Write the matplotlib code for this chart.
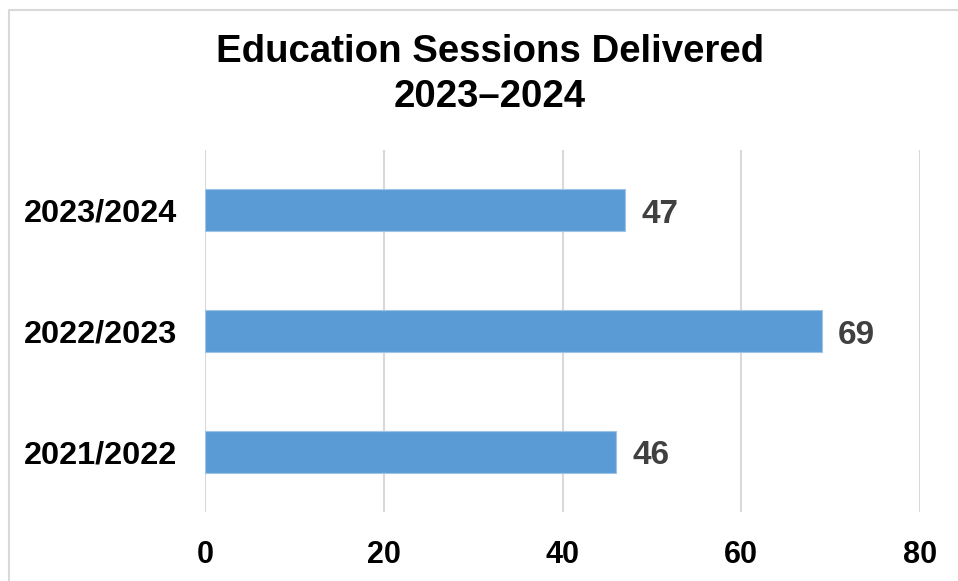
import matplotlib.pyplot as plt
from matplotlib.lines import Line2D

plt.rcParams['font.family'] = ['Liberation Sans', 'DejaVu Sans']

years = ['2021/2022', '2022/2023', '2023/2024']
sessions = [46, 69, 47]
x_ticks = [0, 20, 40, 60, 80]

fig = plt.figure(figsize=(9.58, 5.81), dpi=100)
ax = fig.add_axes([205 / 958, 1 - 512 / 581, 715 / 958, 362 / 581])

bars = ax.barh(range(len(years)), sessions, height=0.35, color='#5B9BD5',
               edgecolor='#9DC3E6', linewidth=0.8, zorder=3)

for i, v in enumerate(sessions):
    ax.text(v + 1.8, i - 0.035, str(v), va='center', ha='left', fontsize=24,
            fontweight='bold', color='#404040')

ax.set_xlim(0, 80)
ax.set_ylim(-0.5, 2.5)
ax.set_xticks(x_ticks)
ax.set_xticklabels([str(t) for t in x_ticks], fontsize=22, fontweight='bold')
ax.set_yticks(range(len(years)))
ax.set_yticklabels(years, fontsize=23.4, fontweight='bold')
ax.tick_params(axis='x', length=0, pad=20.5)
ax.tick_params(axis='y', length=0, pad=20)
ax.grid(axis='x', color='#D9D9D9', linewidth=1.5, zorder=0)
for s in ax.spines.values():
    s.set_visible(False)

fig.text(0.5 + 11 / 958, 1 - 52 / 581, 'Education Sessions Delivered', ha='center',
         va='center', fontsize=27.6, fontweight='bold')
fig.text(0.5 + 11 / 958, 1 - 97 / 581, '2023\u20132024', ha='center',
         va='center', fontsize=27.6, fontweight='bold')

# chart frame (only top and left edges visible in the crop)
fig.add_artist(Line2D([8.5 / 958, 8.5 / 958, 1.0], [0.0, 1 - 9.5 / 581, 1 - 9.5 / 581],
                      transform=fig.transFigure, color='#D9D9D9', linewidth=1.5))

fig.savefig('out.png', dpi=100)
